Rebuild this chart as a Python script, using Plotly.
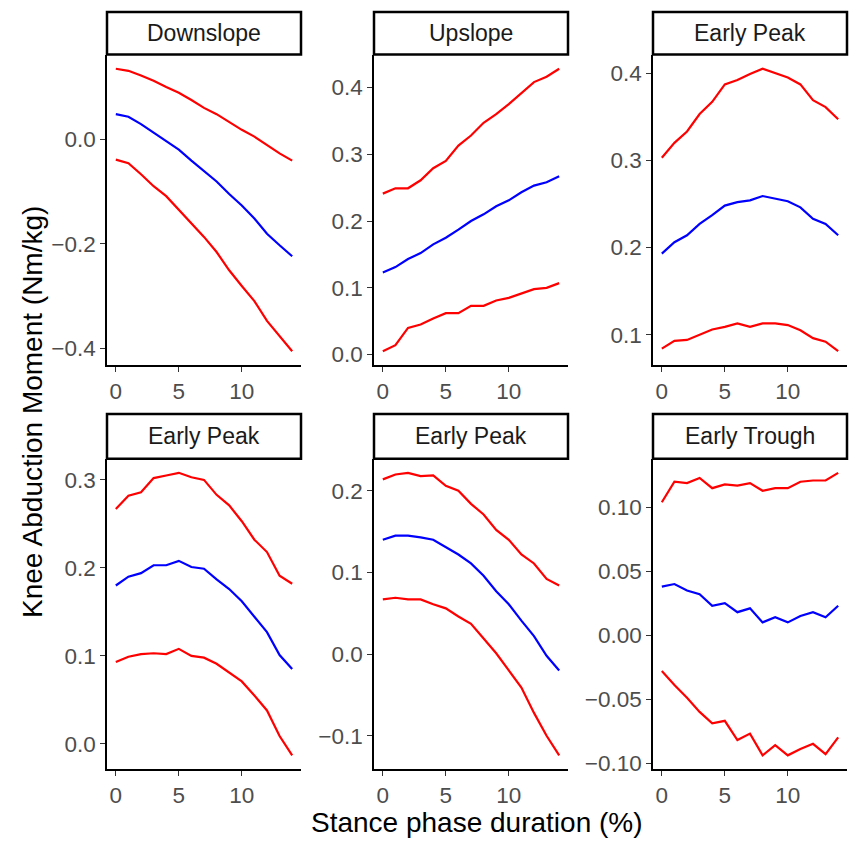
import plotly.graph_objects as go

W, H = 854, 841
x_vals = list(range(15))

panel_titles = ["Downslope", "Upslope", "Early Peak", "Early Peak", "Early Peak", "Early Trough"]

downslope_upper = [0.135, 0.131, 0.122, 0.112, 0.100, 0.089, 0.075, 0.060, 0.048, 0.033, 0.018, 0.005, -0.011, -0.027, -0.041]
downslope_mean = [0.048, 0.043, 0.029, 0.013, -0.003, -0.020, -0.041, -0.061, -0.081, -0.105, -0.127, -0.152, -0.181, -0.203, -0.224]
downslope_lower = [-0.039, -0.046, -0.067, -0.090, -0.109, -0.135, -0.162, -0.187, -0.216, -0.251, -0.281, -0.310, -0.348, -0.376, -0.406]

upslope_upper = [0.241, 0.249, 0.249, 0.261, 0.279, 0.290, 0.313, 0.328, 0.347, 0.360, 0.375, 0.392, 0.408, 0.416, 0.428]
upslope_mean = [0.123, 0.131, 0.143, 0.152, 0.165, 0.175, 0.187, 0.200, 0.210, 0.222, 0.231, 0.243, 0.253, 0.258, 0.267]
upslope_lower = [0.005, 0.014, 0.040, 0.045, 0.054, 0.062, 0.062, 0.073, 0.073, 0.081, 0.085, 0.092, 0.098, 0.100, 0.107]

peak1_upper = [0.303, 0.320, 0.333, 0.353, 0.367, 0.387, 0.392, 0.399, 0.405, 0.400, 0.395, 0.387, 0.369, 0.361, 0.347]
peak1_mean = [0.193, 0.206, 0.214, 0.227, 0.237, 0.248, 0.252, 0.254, 0.259, 0.256, 0.253, 0.246, 0.233, 0.227, 0.214]
peak1_lower = [0.084, 0.093, 0.094, 0.100, 0.106, 0.109, 0.113, 0.109, 0.113, 0.113, 0.111, 0.105, 0.096, 0.092, 0.081]

peak2_upper = [0.267, 0.282, 0.286, 0.302, 0.305, 0.308, 0.303, 0.300, 0.283, 0.271, 0.253, 0.232, 0.218, 0.191, 0.182]
peak2_mean = [0.180, 0.190, 0.194, 0.203, 0.203, 0.208, 0.201, 0.199, 0.187, 0.176, 0.162, 0.144, 0.127, 0.101, 0.085]
peak2_lower = [0.093, 0.099, 0.102, 0.103, 0.102, 0.108, 0.100, 0.098, 0.091, 0.081, 0.071, 0.055, 0.038, 0.009, -0.013]

peak3_upper = [0.214, 0.220, 0.222, 0.218, 0.219, 0.206, 0.200, 0.184, 0.171, 0.152, 0.140, 0.122, 0.111, 0.092, 0.084]
peak3_mean = [0.140, 0.145, 0.145, 0.143, 0.140, 0.131, 0.122, 0.111, 0.096, 0.077, 0.061, 0.041, 0.022, -0.002, -0.020]
peak3_lower = [0.067, 0.069, 0.067, 0.067, 0.061, 0.056, 0.046, 0.037, 0.019, 0.001, -0.020, -0.041, -0.072, -0.100, -0.124]

trough_upper = [0.104, 0.120, 0.119, 0.123, 0.115, 0.118, 0.117, 0.119, 0.113, 0.115, 0.115, 0.120, 0.121, 0.121, 0.127]
trough_mean = [0.038, 0.040, 0.035, 0.032, 0.023, 0.025, 0.018, 0.021, 0.010, 0.014, 0.010, 0.015, 0.018, 0.014, 0.023]
trough_lower = [-0.028, -0.039, -0.049, -0.060, -0.069, -0.067, -0.082, -0.077, -0.094, -0.086, -0.094, -0.089, -0.085, -0.093, -0.080]

x_tick_vals = [0, 5, 10]
y_tick_vals = [
    [-0.4, -0.2, 0.0],
    [0.0, 0.1, 0.2, 0.3, 0.4],
    [0.1, 0.2, 0.3, 0.4],
    [0.0, 0.1, 0.2, 0.3],
    [-0.1, 0.0, 0.1, 0.2],
    [-0.10, -0.05, 0.00, 0.05, 0.10],
]
y_tick_formats = [".1f", ".1f", ".1f", ".1f", ".1f", ".2f"]

panels = [
    (downslope_upper, downslope_mean, downslope_lower),
    (upslope_upper, upslope_mean, upslope_lower),
    (peak1_upper, peak1_mean, peak1_lower),
    (peak2_upper, peak2_mean, peak2_lower),
    (peak3_upper, peak3_mean, peak3_lower),
    (trough_upper, trough_mean, trough_lower),
]

# layout in pixels
col_px = [(107, 301), (374, 568), (653, 847)]
row_px = [(55, 368), (462, 775)]
strip_px = [(12, 55), (417, 462)]

FONT = "Liberation Sans, Arial, sans-serif"
fig = go.Figure()
layout = dict(
    width=W, height=H, margin=dict(l=0, r=0, t=0, b=0),
    plot_bgcolor="white", paper_bgcolor="white", showlegend=False,
    font=dict(family=FONT),
)
shapes, annotations = [], []

for i, (up, mn, lo) in enumerate(panels):
    r, c = divmod(i, 3)
    n = i + 1
    xa = "x" if n == 1 else f"x{n}"
    ya = "y" if n == 1 else f"y{n}"
    for series, color in ((up, "#FF0000"), (lo, "#FF0000"), (mn, "#0000FF")):
        fig.add_trace(go.Scatter(x=x_vals, y=series, mode="lines",
                                 line=dict(color=color, width=2.2),
                                 xaxis=xa, yaxis=ya, hoverinfo="skip"))
    allv = up + mn + lo
    vmin, vmax = min(allv), max(allv)
    span = vmax - vmin
    x0p, x1p = col_px[c]
    y0p, y1p = row_px[r]
    xdom = [x0p / W, x1p / W]
    ydom = [1 - y1p / H, 1 - y0p / H]
    axcommon = dict(showgrid=False, zeroline=False, showline=True, linecolor="black",
                    linewidth=1.5, ticks="outside", ticklen=5, tickwidth=1.2,
                    tickcolor="#333333",
                    tickfont=dict(size=22.5, color="#4D4D4D", family=FONT))
    layout["xaxis" if n == 1 else f"xaxis{n}"] = dict(
        domain=xdom, anchor=ya, range=[-0.7, 14.7], tickvals=x_tick_vals,
        **axcommon)
    layout["yaxis" if n == 1 else f"yaxis{n}"] = dict(
        domain=ydom, anchor=xa, range=[vmin - 0.05 * span, vmax + 0.05 * span],
        tickvals=y_tick_vals[i], tickformat=y_tick_formats[i], **axcommon)
    s0, s1 = strip_px[r]
    shapes.append(dict(type="rect", xref="paper", yref="paper",
                       x0=x0p / W, x1=x1p / W, y0=1 - s1 / H, y1=1 - s0 / H,
                       line=dict(color="black", width=2.5), fillcolor="white"))
    annotations.append(dict(text=panel_titles[i], xref="paper", yref="paper",
                            x=(x0p + x1p) / 2 / W, y=1 - (s0 + s1) / 2 / H,
                            showarrow=False, xanchor="center", yanchor="middle",
                            font=dict(size=23, color="#1A1A1A", family=FONT)))

annotations.append(dict(text="Stance phase duration (%)", xref="paper", yref="paper",
                        x=477 / W, y=1 - 828 / H, showarrow=False,
                        xanchor="center", yanchor="middle",
                        font=dict(size=28, color="black", family=FONT)))
annotations.append(dict(text="Knee Abduction Moment (Nm/kg)", xref="paper", yref="paper",
                        x=32 / W, y=1 - 415 / H, showarrow=False, textangle=-90,
                        xanchor="center", yanchor="middle",
                        font=dict(size=28, color="black", family=FONT)))

layout["shapes"] = shapes
layout["annotations"] = annotations
fig.update_layout(**layout)
fig.write_html("out.html", config={"displayModeBar": False},
               post_script="document.body.style.margin='0';document.body.style.overflow='hidden';")
